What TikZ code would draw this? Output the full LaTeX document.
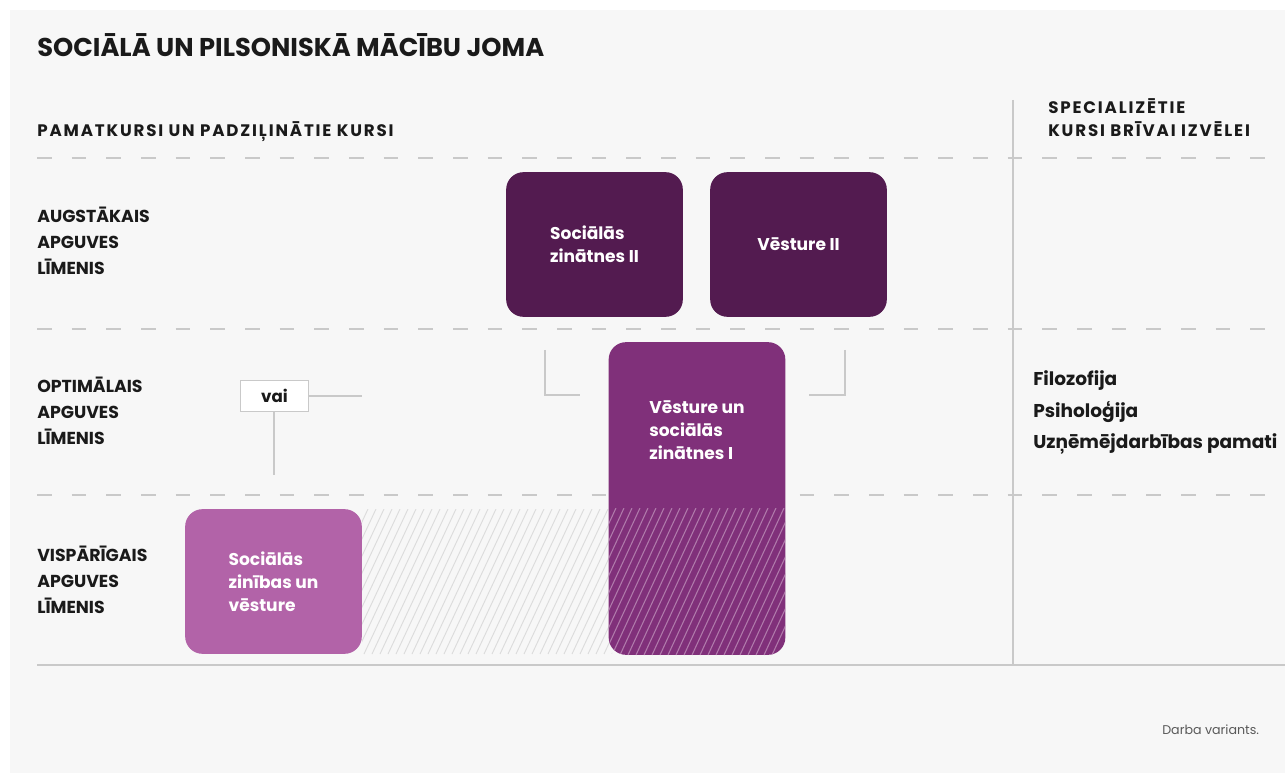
\documentclass[tikz,border=0pt]{standalone}
\usepackage{fontspec}
\setmainfont{Poppins}
\newfontfamily\spaced[LetterSpace=11]{Poppins}
\definecolor{bg}{HTML}{F7F7F7}
\definecolor{dark}{HTML}{531B50}
\definecolor{mid}{HTML}{80307A}
\definecolor{light}{HTML}{B263A8}
\definecolor{rule}{HTML}{C9C9C9}
\definecolor{ink}{HTML}{1A1A1A}
\definecolor{hatchgray}{HTML}{DCDCDC}
\definecolor{hatchpurple}{HTML}{B07AAB}
\tikzset{
  guide/.style={draw=rule, line width=1.5pt, dash pattern=on 11pt off 15pt},
  solidrule/.style={draw=rule, line width=1.5pt},
  thin/.style={draw=rule, line width=1.1pt},
  box/.style={rounded corners=13pt, minimum width=132.5pt, minimum height=108.5pt,
     text=white, font=\bfseries\fontsize{12.8}{17.3}\selectfont, align=left, inner sep=0pt},
  rowlabel/.style={anchor=north west, align=left, text=ink, inner sep=0pt,
     font=\bfseries\fontsize{13}{19.5}\selectfont},
  item/.style={anchor=base west, text=ink, inner sep=0pt, font=\bfseries\fontsize{13.9}{16}\selectfont},
}
\begin{document}
\begin{tikzpicture}[x=0.75pt,y=-0.75pt]
\useasboundingbox (0,0) rectangle (1285,773);
\fill[white] (0,0) rectangle (1285,773);
\fill[bg] (10,10) rectangle (1285,773);

% headings
\node[anchor=base west, inner sep=0pt, text=ink, font=\bfseries\fontsize{19.3}{22}\selectfont] (title) at (37,57) {SOCIĀLĀ UN PILSONISKĀ MĀCĪBU JOMA};
\node[anchor=base west, inner sep=0pt, text=ink, font=\spaced\bfseries\fontsize{12.5}{14}\selectfont] (sub) at (37,137) {PAMATKURSI UN PADZIĻINĀTIE KURSI};
\node[anchor=north west, align=left, inner sep=0pt, text=ink, font=\spaced\bfseries\fontsize{12.5}{17.5}\selectfont] (spec) at (1048,98) {SPECIALIZĒTIE\\KURSI BRĪVAI IZVĒLEI};

% guides
\coordinate (gA1) at (37,158); \coordinate (gA2) at (1285,158);
\coordinate (gB1) at (37,329); \coordinate (gB2) at (1285,329);
\coordinate (gC1) at (37,495); \coordinate (gC2) at (1285,495);
\coordinate (base1) at (37,665); \coordinate (base2) at (1285,665);
\coordinate (vt) at (1013,100); \coordinate (vb) at (1013,665);
\draw[guide] (gA1) -- (gA2);
\draw[guide] (gB1) -- (gB2);
\draw[guide] (gC1) -- (gC2);
\draw[solidrule] (base1) -- (base2);
\draw[solidrule] (vt) -- (vb);

% row labels
\node[rowlabel] (r1) at (37,207) {AUGSTĀKAIS\\APGUVES\\LĪMENIS};
\node[rowlabel] (r2) at (37,377) {OPTIMĀLAIS\\APGUVES\\LĪMENIS};
\node[rowlabel] (r3) at (37,546) {VISPĀRĪGAIS\\APGUVES\\LĪMENIS};

% grey hatched area
\begin{scope}
\clip (362,509) rectangle (612,654);
\foreach \i in {300,308,...,620} {
  \draw[hatchgray, line width=0.7pt] (\i,654) -- ++(68,-145);
}
\end{scope}

% boxes
\node[box, fill=dark] (sz2) at (594.5,244.5) {Sociālās\\zinātnes II};
\node[box, fill=dark] (v2) at (798.5,244.5) {Vēsture II};
\node[box, fill=light] (szv) at (273.5,581.5) {Sociālās\\zinības un\\vēsture};
\node[box, fill=mid, minimum height=234.5pt] (vsz) at (697,498.5) {};
\begin{scope}
\clip[rounded corners=13pt] (609,342) rectangle (785,655);
\clip (600,508) rectangle (800,660);
\foreach \i in {540,548,...,790} {
  \draw[hatchpurple, line width=0.8pt] (\i,655) -- ++(68,-147);
}
\end{scope}
\node[box, minimum width=0pt, minimum height=0pt] (vszt) at (697,430) {Vēsture un\\sociālās\\zinātnes I};

% brackets
\coordinate (bl1) at (545,350); \coordinate (bl2) at (545,395); \coordinate (bl3) at (580,395);
\coordinate (br1) at (845,350); \coordinate (br2) at (845,395); \coordinate (br3) at (809,395);
\draw[thin] (bl1) -- (bl2) -- (bl3);
\draw[thin] (br1) -- (br2) -- (br3);

% vai
\node[draw=rule, line width=1.1pt, fill=white, minimum width=51pt, minimum height=23.5pt, inner sep=0pt,
  text=ink, font=\bfseries\fontsize{12.5}{14}\selectfont] (vai) at (274.5,396) {vai};
\coordinate (vaiR) at (362,396);
\coordinate (vaiD) at (274,475);
\draw[thin] (vai.east) -- (vaiR);
\draw[thin] (vai.south -| vaiD) -- (vaiD);

% specialised courses
\node[item] (f1) at (1033,386) {Filozofija};
\node[item] (f2) at (1033,417) {Psiholoģija};
\node[item] (f3) at (1033,448) {Uzņēmējdarbības pamati};

\node[anchor=base west, inner sep=0pt, text=black!65, font=\fontsize{9.5}{11}\selectfont] (note) at (1162,734) {Darba variants.};
\end{tikzpicture}
\end{document}
